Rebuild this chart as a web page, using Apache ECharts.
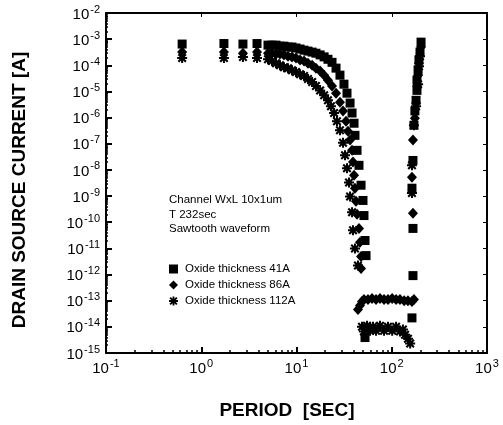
<!DOCTYPE html>
<html>
<head>
<meta charset="utf-8">
<script src="https://cdn.jsdelivr.net/npm/echarts@6/dist/echarts.min.js"></script>
<style>
html, body { margin: 0; padding: 0; background: #fff; }
#chart { width: 503px; height: 425px; }
</style>
</head>
<body>
<div id="chart"></div>
<script>
const seriesNames = ['Oxide thickness 41A', 'Oxide thickness 86A', 'Oxide thickness 112A'];
const notes = ['Channel WxL 10x1um', 'T 232sec', 'Sawtooth waveform'];

// 41A (squares)
const period41 = [0.63, 1.73, 2.74, 3.85,
  5.02, 5.53, 6.09, 6.71, 7.39, 8.14, 8.97, 9.88, 10.9, 12.0, 13.2, 14.6, 16.0, 17.7, 19.5, 21.4, 23.6, 26.0, 28.6, 31.5, 33.9, 36.5, 38.3, 40.2,
  41.1, 43.2, 45.3, 47.6, 49.9, 51.1, 52.4, 53.7,
  52.4, 163,
  167, 167, 163, 167, 171, 175, 180, 184, 184, 189, 193, 198, 203];
const current41 = [6.5e-4, 6.8e-4, 6.5e-4, 6.8e-4,
  5.9e-4, 5.9e-4, 5.9e-4, 5.4e-4, 5.4e-4, 5.0e-4, 5.0e-4, 4.6e-4, 4.2e-4, 3.8e-4, 3.5e-4, 3.2e-4, 2.9e-4, 2.5e-4, 2.1e-4, 1.7e-4, 1.3e-4, 7.8e-5, 4.2e-5, 1.9e-5, 8.6e-6, 3.6e-6, 1.5e-6, 6.1e-7,
  2.1e-7, 5.6e-8, 1.5e-8, 2.6e-9, 6.8e-10, 1.8e-10, 2.0e-11, 5.3e-12,
  3.9e-15, 2.2e-14,
  9.1e-13, 5.8e-11, 2.0e-9, 2.3e-8, 5.1e-7, 1.8e-6, 4.6e-6, 1.1e-5, 2.7e-5, 6.5e-5, 1.6e-4, 3.2e-4, 7.7e-4];

// 86A (diamonds)
const period86 = [0.63, 1.73, 2.74, 3.85,
  5.02, 5.53, 6.09, 6.71, 7.39, 8.14, 8.97, 9.88, 10.9, 12.0, 13.2, 14.6, 16.0, 17.7, 19.5, 21.4, 23.6, 26.0, 28.6, 30.8, 33.1, 34.7,
  36.5, 38.3, 39.2, 40.2, 41.1, 42.1, 43.2, 45.3, 46.4, 47.6, 47.6,
  44.2, 46.4, 48.7, 51.1, 56.3, 62.1, 68.4, 75.3, 83.0, 91.4, 101, 111, 122, 135, 148, 163, 171,
  167, 163, 167, 175, 180, 184, 189, 193, 203];
const current86 = [3.2e-4, 3.2e-4, 2.9e-4, 3.2e-4,
  2.9e-4, 2.9e-4, 2.7e-4, 2.7e-4, 2.5e-4, 2.2e-4, 2.1e-4, 1.9e-4, 1.6e-4, 1.45e-4, 1.2e-4, 1.0e-4, 7.8e-5, 6.0e-5, 4.2e-5, 2.7e-5, 1.6e-5, 8.6e-6, 3.9e-6, 1.8e-6, 7.3e-7, 3.0e-7,
  1.4e-7, 5.6e-8, 2.0e-8, 6.2e-9, 2.0e-9, 6.3e-10, 2.0e-10, 5.8e-11, 1.7e-11, 4.9e-12, 1.7e-12,
  4.6e-14, 6.5e-14, 9.3e-14, 1.1e-13, 1.1e-13, 1.2e-13, 1.1e-13, 1.2e-13, 1.1e-13, 1.1e-13, 1.2e-13, 1.1e-13, 1.1e-13, 1.0e-13, 1.0e-13, 9.3e-14, 1.1e-13,
  2.2e-10, 5.2e-9, 1.4e-7, 9.5e-7, 3.6e-6, 1.6e-5, 4.2e-5, 1.2e-4, 5.0e-4];

// 112A (asterisks)
const period112 = [0.63, 1.73, 2.74, 3.85,
  5.02, 5.53, 6.09, 6.71, 7.39, 8.14, 8.97, 9.88, 10.9, 12.0, 13.2, 14.6, 16.0, 17.7, 19.5, 21.4, 23.0, 24.8, 26.6, 28.6,
  30.8, 32.3, 33.9, 35.6, 36.5, 38.3, 39.2, 41.1, 44.2,
  48.7, 51.1, 55.0, 59.2, 63.6, 68.4, 75.3, 83.0, 91.4, 101, 111, 122, 131, 138, 148, 156,
  163, 163, 171, 180, 189, 193, 198];
const current112 = [1.9e-4, 1.9e-4, 2.1e-4, 1.9e-4,
  1.7e-4, 1.45e-4, 1.2e-4, 1.0e-4, 8.5e-5, 7.8e-5, 6.5e-5, 5.5e-5, 4.6e-5, 3.9e-5, 3.0e-5, 2.3e-5, 1.6e-5, 1.1e-5, 7.2e-6, 4.6e-6, 2.7e-6, 1.5e-6, 7.3e-7, 3.3e-7,
  1.1e-7, 3.6e-8, 1.15e-8, 3.3e-9, 9.7e-10, 2.4e-10, 4.9e-11, 9.9e-12, 2.2e-12,
  1.0e-14, 6.6e-15, 1.1e-14, 7.1e-15, 1.0e-14, 7.1e-15, 1.1e-14, 7.1e-15, 1.0e-14, 7.1e-15, 1.0e-14, 6.6e-15, 8.0e-15, 5.0e-15, 3.5e-15, 2.3e-15,
  1.3e-9, 1.5e-8, 5.1e-7, 2.7e-6, 1.9e-5, 9.3e-5, 2.2e-4];

const xRange = [0.1, 1000];
const yRange = [1e-15, 1e-2];

const pairs = (xs, ys) => xs.map((x, i) => [x, ys[i]]);
const starPath = 'path://M-2,-10L2,-10L2,-5L6,-9L9,-6L5,-2L10,-2L10,2L5,2L9,6L6,9L2,5L2,10L-2,10L-2,5L-6,9L-9,6L-5,2L-10,2L-10,-2L-5,-2L-9,-6L-6,-9L-2,-5Z';

const FONT = '"Liberation Sans", Arial, sans-serif';
const powLabel = {
  formatter: v => '{b|10}{s|' + Math.round(Math.log10(v)) + '}',
  rich: {
    b: { fontSize: 15, fontFamily: FONT, color: '#000', lineHeight: 18, verticalAlign: 'bottom' },
    s: { fontSize: 11, fontFamily: FONT, color: '#000', lineHeight: 10, verticalAlign: 'top', padding: [0, 0, 0, 1] }
  }
};
const line = { show: true, lineStyle: { color: '#000', width: 2 } };

const chart = echarts.init(document.getElementById('chart'));
chart.setOption({
  animation: false,
  backgroundColor: '#fff',
  grid: { left: 106, right: 16, top: 13, bottom: 72 },
  xAxis: [
    { type: 'log', logBase: 10, min: xRange[0], max: xRange[1], interval: 1,
      axisLine: line, splitLine: { show: false },
      axisTick: { inside: true, length: 6, lineStyle: { color: '#000', width: 2 } },
      minorTick: { show: true, splitNumber: 9, length: 3, lineStyle: { color: '#000', width: 1.5 } },
      axisLabel: Object.assign({ margin: 5, showMinLabel: true, showMaxLabel: true }, powLabel) },
    { type: 'log', logBase: 10, min: xRange[0], max: xRange[1], interval: 1, position: 'top',
      axisLine: line, splitLine: { show: false }, axisLabel: { show: false },
      axisTick: { inside: true, length: 4, lineStyle: { color: '#000' } } }
  ],
  yAxis: [
    { type: 'log', logBase: 10, min: yRange[0], max: yRange[1], interval: 1,
      axisLine: line, splitLine: { show: false },
      axisTick: { inside: true, length: 6, lineStyle: { color: '#000', width: 2 } },
      minorTick: { show: true, splitNumber: 9, length: 2, lineStyle: { color: '#000', width: 1.5 } },
      axisLabel: Object.assign({ margin: 6, showMinLabel: true, showMaxLabel: true, hideOverlap: false }, powLabel) },
    { type: 'log', logBase: 10, min: yRange[0], max: yRange[1], interval: 1, position: 'right',
      axisLine: line, splitLine: { show: false }, axisLabel: { show: false },
      axisTick: { inside: true, length: 4, lineStyle: { color: '#000' } } }
  ],
  legend: {
    orient: 'vertical', left: 164, top: 258, itemWidth: 9, itemHeight: 9, itemGap: 4,
    textStyle: { fontFamily: FONT, fontSize: 11.5, color: '#000', padding: [0, 0, 0, 2] },
    data: seriesNames
  },
  graphic: [
    { type: 'text', left: 169, top: 193,
      style: { text: notes.join('\n'), font: '11.5px ' + FONT, lineHeight: 14.5, fill: '#000' } },
    { type: 'text', x: 287, y: 411,
      style: { text: 'PERIOD  [SEC]', font: 'bold 19px ' + FONT, align: 'center', verticalAlign: 'middle', fill: '#000' } },
    { type: 'text', x: 20, y: 190, rotation: Math.PI / 2,
      style: { text: 'DRAIN SOURCE CURRENT [A]', font: 'bold 19px ' + FONT, align: 'center', verticalAlign: 'middle', fill: '#000' } }
  ],
  series: [
    { name: seriesNames[0], type: 'scatter', symbol: 'rect', symbolSize: 9,
      itemStyle: { color: '#000', opacity: 1 }, data: pairs(period41, current41) },
    { name: seriesNames[1], type: 'scatter', symbol: 'diamond', symbolSize: [10, 11],
      itemStyle: { color: '#000', opacity: 1 }, data: pairs(period86, current86) },
    { name: seriesNames[2], type: 'scatter', symbol: starPath, symbolSize: 10,
      itemStyle: { color: '#000', opacity: 1 }, data: pairs(period112, current112) }
  ]
});
</script>
</body>
</html>
